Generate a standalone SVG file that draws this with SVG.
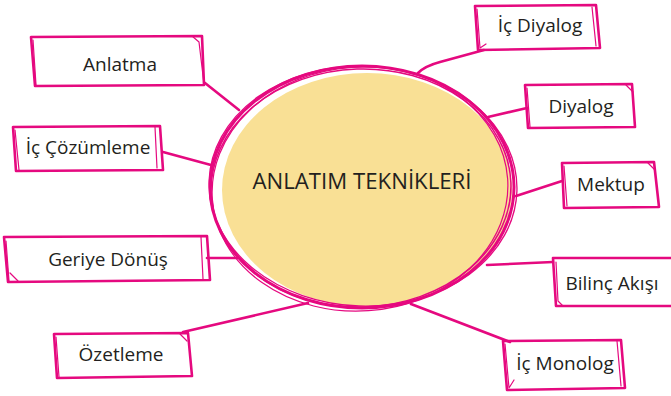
<svg xmlns="http://www.w3.org/2000/svg" width="671" height="396" viewBox="0 0 671 396">
<style>
.pk{fill:none;stroke:#e5097f;stroke-linejoin:round;stroke-linecap:round}
.b1{stroke-width:2.6}
.b2{stroke-width:1.2}
.lbl{font-family:"Open Sans","Liberation Sans",sans-serif;font-size:19px;fill:#231f20;text-anchor:middle}
.ttl{font-family:"Open Sans","Liberation Sans",sans-serif;font-size:21px;fill:#231f20;text-anchor:middle}
</style>
<rect width="671" height="396" fill="#ffffff"/>
<g id="connectors">
<path class="pk b1" d="M205 83 L239 110"/>
<path class="pk b1" d="M163 152 L211 165"/>
<path class="pk b1" d="M484 50 L440 62 Q425 66 418 73"/>
<path class="pk b1" d="M527 108 L488 117"/>
<path class="pk b1" d="M562 181 L516 196"/>
<path class="pk b1" d="M207 258 L238 258"/>
<path class="pk b1" d="M183 332 L308 303"/>
<path class="pk b1" d="M553 262 L487 265"/>
<path class="pk b1" d="M510 342 L411 304"/>
</g>
<g id="center">
<ellipse cx="367" cy="190" rx="145" ry="117" fill="#f9e095"/>
<ellipse class="pk" cx="362" cy="187" rx="152" ry="121" stroke-width="3"/>
<ellipse class="pk" cx="361" cy="188" rx="150" ry="119" stroke-width="1.5" transform="rotate(-2 361 188)"/>
<ellipse class="pk" cx="363" cy="186" rx="154" ry="120" stroke-width="1.3" transform="rotate(2 363 186)"/>
<ellipse class="pk" cx="360" cy="189" rx="148" ry="122" stroke-width="1.2" transform="rotate(-4 360 189)"/>
<text class="ttl" x="362" y="189" textLength="219" lengthAdjust="spacingAndGlyphs">ANLATIM TEKNİKLERİ</text>
</g>
<g id="n-anlatma">
<path class="pk b1" d="M31 37 L202 36 L204 85 L35 86 Z"/>
<path class="pk b2" d="M33 40 L36 85 M192 36 L199 42 L204 84"/>
<text class="lbl" x="120" y="71">Anlatma</text>
</g>
<g id="n-iccozumleme">
<path class="pk b1" d="M13 127 L160 126 L163 170 L16 171 Z"/>
<path class="pk b2" d="M15 130 L19 170 M155 127 L157 168"/>
<text class="lbl" x="88" y="154">İç Çözümleme</text>
</g>
<g id="n-icdiyalog">
<path class="pk b1" d="M475 6 L596 5 L600 48 L478 50 Z"/>
<path class="pk b2" d="M477 9 L480 48 L486 44 M592 7 L596 46"/>
<text class="lbl" x="540" y="32">İç Diyalog</text>
</g>
<g id="n-diyalog">
<path class="pk b1" d="M525 85 L632 84 L635 127 L528 128 Z"/>
<path class="pk b2" d="M527 88 L530 127 M626 85 L633 92"/>
<text class="lbl" x="581" y="113">Diyalog</text>
</g>
<g id="n-mektup">
<path class="pk b1" d="M562 163 L654 162 L659 207 L564 208 Z"/>
<path class="pk b2" d="M564 166 L567 206 M648 163 L655 170"/>
<text class="lbl" x="611" y="191">Mektup</text>
</g>
<g id="n-geriyedonus">
<path class="pk b1" d="M4 237 L207 236 L210 280 L8 282 Z"/>
<path class="pk b2" d="M6 241 L9 281 M10 273 L18 281 M201 237 L203 279"/>
<text class="lbl" x="108" y="266">Geriye Dönüş</text>
</g>
<g id="n-ozetleme">
<path class="pk b1" d="M54 334 L188 333 L192 376 L57 378 Z"/>
<path class="pk b2" d="M56 337 L59 377 M180 334 L187 341"/>
<text class="lbl" x="121" y="361">Özetleme</text>
</g>
<g id="n-bilinc">
<path class="pk b1" d="M553 258 L671 258 M553 258 L556 306 L671 306"/>
<path class="pk b2" d="M556 262 L558 301 L563 306"/>
<text class="lbl" x="612" y="290">Bilinç Akışı</text>
</g>
<g id="n-icmonolog">
<path class="pk b1" d="M503 341 L621 340 L625 388 L507 390 Z"/>
<path class="pk b2" d="M505 344 L509 388 L514 380 M617 341 L621 386"/>
<text class="lbl" x="565" y="370">İç Monolog</text>
</g>
</svg>
